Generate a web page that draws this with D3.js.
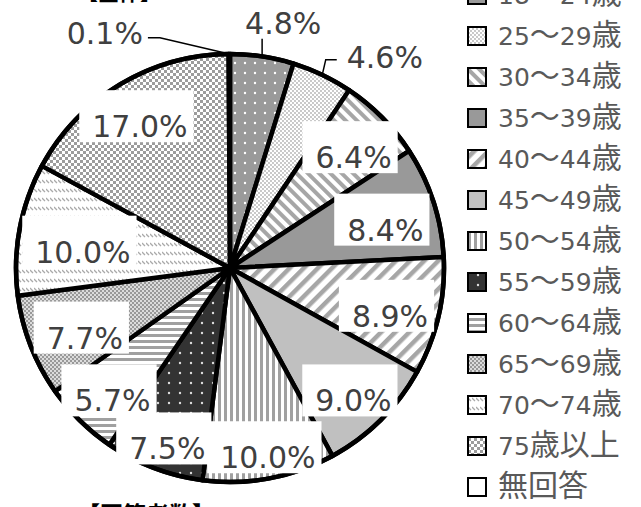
<!DOCTYPE html>
<html><head><meta charset="utf-8">
<script src="https://cdn.jsdelivr.net/npm/d3@7"></script>
<style>body{margin:0;background:#fff;overflow:hidden}</style>
</head><body>
<svg id="c" width="641" height="507"></svg>
<script>
// ---- data ----
const categories = ["18〜24歳","25〜29歳","30〜34歳","35〜39歳","40〜44歳","45〜49歳","50〜54歳","55〜59歳","60〜64歳","65〜69歳","70〜74歳","75歳以上","無回答"];
const values = [4.8, 4.6, 6.4, 8.4, 8.9, 9.0, 10.0, 7.5, 5.7, 7.7, 10.0, 17.0, 0.1];
const valueLabels = ["4.8%","4.6%","6.4%","8.4%","8.9%","9.0%","10.0%","7.5%","5.7%","7.7%","10.0%","17.0%","0.1%"];
const titleTop = "【全体】";
const titleBottom = "【回答者数】";

// ---- layout (not data) ----
const cx = 230, cy = 268, R = 214;
// label placement: [radius, angle offset in degrees from slice middle, leader type]
const labelPlace = [
  [251, 3.6, "vertical"], [262, 10.7, "elbowLeft"], [166, 2.8], [160, 4.2], [167, 3.6],
  [181, 1.8], [193, -0.7], [191, -1.7], [177, -3.0], [161, -4.3], [148, -4.2], [168, -1.5],
  [266, -27.9, "elbowRight"]
];

const svg = d3.select("#c");
const defs = svg.append("defs");
function pattern(id, w, h, transform) {
  const p = defs.append("pattern").attr("id", id).attr("patternUnits", "userSpaceOnUse")
    .attr("width", w).attr("height", h);
  if (transform) p.attr("patternTransform", transform);
  return p;
}
// 0: gray with white dots
{ const p = pattern("p0", 10, 10); p.append("rect").attr("width",10).attr("height",10).attr("fill","#9a9a9a");
  p.append("circle").attr("cx",5).attr("cy",5).attr("r",1.2).attr("fill","#fff"); }
// 1: fine gray dots on white
{ const p = pattern("p1", 4, 4); p.append("rect").attr("width",4).attr("height",4).attr("fill","#fff");
  p.append("circle").attr("cx",1).attr("cy",1).attr("r",0.9).attr("fill","#b0b0b0");
  p.append("circle").attr("cx",3).attr("cy",3).attr("r",0.9).attr("fill","#b0b0b0"); }
// 2: "\" stripes
{ const p = pattern("p2", 8, 8, "rotate(-45)"); p.append("rect").attr("width",8).attr("height",8).attr("fill","#fff");
  p.append("rect").attr("width",4).attr("height",8).attr("fill","#a6a6a6"); }
// 3: solid gray
{ const p = pattern("p3", 8, 8); p.append("rect").attr("width",8).attr("height",8).attr("fill","#999"); }
// 4: "/" stripes
{ const p = pattern("p4", 10, 10, "rotate(45)"); p.append("rect").attr("width",10).attr("height",10).attr("fill","#fff");
  p.append("rect").attr("width",4.5).attr("height",10).attr("fill","#a6a6a6"); }
// 5: light gray
{ const p = pattern("p5", 8, 8); p.append("rect").attr("width",8).attr("height",8).attr("fill","#c0c0c0"); }
// 6: vertical stripes
{ const p = pattern("p6", 6, 6); p.append("rect").attr("width",6).attr("height",6).attr("fill","#fff");
  p.append("rect").attr("width",3).attr("height",6).attr("fill","#a0a0a0"); }
// 7: dark with white dots
{ const p = pattern("p7", 11, 10); p.append("rect").attr("width",11).attr("height",10).attr("fill","#333");
  p.append("circle").attr("cx",5).attr("cy",5).attr("r",1.2).attr("fill","#ddd"); }
// 8: horizontal stripes
{ const p = pattern("p8", 6, 6); p.append("rect").attr("width",6).attr("height",6).attr("fill","#fff");
  p.append("rect").attr("width",6).attr("height",3).attr("fill","#a0a0a0"); }
// 9: fine checker
{ const p = pattern("p9", 4, 4); p.append("rect").attr("width",4).attr("height",4).attr("fill","#dcdcdc");
  p.append("rect").attr("width",2).attr("height",2).attr("fill","#999");
  p.append("rect").attr("x",2).attr("y",2).attr("width",2).attr("height",2).attr("fill","#999"); }
// 10: white with short diagonal dashes
{ const p = pattern("p10", 4, 9); p.append("rect").attr("width",4).attr("height",9).attr("fill","#fff");
  p.append("path").attr("d","M0,2 L3,5").attr("stroke","#aaa").attr("stroke-width",1.3); }
// 11: checker
{ const p = pattern("p11", 6, 6); p.append("rect").attr("width",6).attr("height",6).attr("fill","#fff");
  p.append("rect").attr("width",3).attr("height",3).attr("fill","#9c9c9c");
  p.append("rect").attr("x",3).attr("y",3).attr("width",3).attr("height",3).attr("fill","#9c9c9c"); }
// 12: white
{ const p = pattern("p12", 8, 8); p.append("rect").attr("width",8).attr("height",8).attr("fill","#fff"); }

const fillOf = i => `url(#p${i})`;

// ---- pie ----
const pie = d3.pie().sort(null).value(d => d)(values);
const arc = d3.arc().innerRadius(0).outerRadius(R);
const g = svg.append("g").attr("transform", `translate(${cx},${cy})`);
g.selectAll("path.slice").data(pie).join("path").attr("class","slice")
  .attr("d", arc).attr("fill", (d, i) => fillOf(i))
  .attr("stroke", "#000").attr("stroke-width", 4.5).attr("stroke-linejoin", "round");
g.append("circle").attr("r", R).attr("fill", "none").attr("stroke", "#000").attr("stroke-width", 4.5);

// ---- labels ----
const latinFont = "'DejaVu Sans', sans-serif";
const cjkFont = "'Noto Sans CJK JP', sans-serif";
const lg = svg.append("g");
pie.forEach((d, i) => {
  const [r, dA, leader] = labelPlace[i];
  const mid = (d.startAngle + d.endAngle) / 2;
  const a = mid + dA * Math.PI / 180;
  const x = cx + r * Math.sin(a), y = cy - r * Math.cos(a);
  const grp = lg.append("g");
  const rect = grp.append("rect").attr("fill", "#fff");
  const t = grp.append("text").attr("x", x).attr("y", y + 11).attr("text-anchor", "middle")
    .attr("font-family", latinFont).attr("font-size", 30).attr("fill", "#404040").text(valueLabels[i]);
  const w = t.node().getComputedTextLength();
  if (!leader) {
    rect.attr("x", x - w / 2 - 13).attr("y", y - 36).attr("width", w + 19).attr("height", 52);
  } else {
    rect.remove();
    const px = cx + R * Math.sin(mid), py = cy - R * Math.cos(mid);
    let pts;
    if (leader === "vertical") pts = [[px, py], [px, y + 16]];
    else if (leader === "elbowLeft") pts = [[px, py], [x - w / 2 - 21, y + 3], [x - w / 2 - 10, y + 3]];
    else pts = [[px, py], [x + w / 2 + 17, y + 4.5], [x + w / 2 + 5, y + 4.5]];
    lg.append("path").attr("d", d3.line()(pts)).attr("fill", "none").attr("stroke", "#000").attr("stroke-width", 1.5);
  }
});

// ---- legend ----
const legend = svg.append("g");
categories.forEach((c, i) => {
  const yc = -5 + 41 * i;
  legend.append("rect").attr("x", 468).attr("y", yc - 9).attr("width", 18).attr("height", 18)
    .attr("fill", fillOf(i)).attr("stroke", "#000").attr("stroke-width", 2);
  const t = legend.append("text").attr("x", 498).attr("y", yc + 9).attr("fill", "#595959");
  c.match(/[0-9]+|[^0-9]+/g).forEach(run => {
    const isNum = /^[0-9]+$/.test(run);
    t.append("tspan").attr("font-family", isNum ? latinFont : cjkFont)
      .attr("font-size", isNum ? 25 : 30).text(run);
  });
});

// ---- titles (cropped) ----
svg.append("text").attr("x", 77).attr("y", -0.5).attr("font-family", cjkFont)
  .attr("font-weight", "bold").attr("font-size", 21).attr("fill", "#000").text(titleTop);
svg.append("text").attr("x", 77).attr("y", 523).attr("font-family", cjkFont)
  .attr("font-weight", "bold").attr("font-size", 23).attr("fill", "#000").text(titleBottom);
</script>
</body></html>
